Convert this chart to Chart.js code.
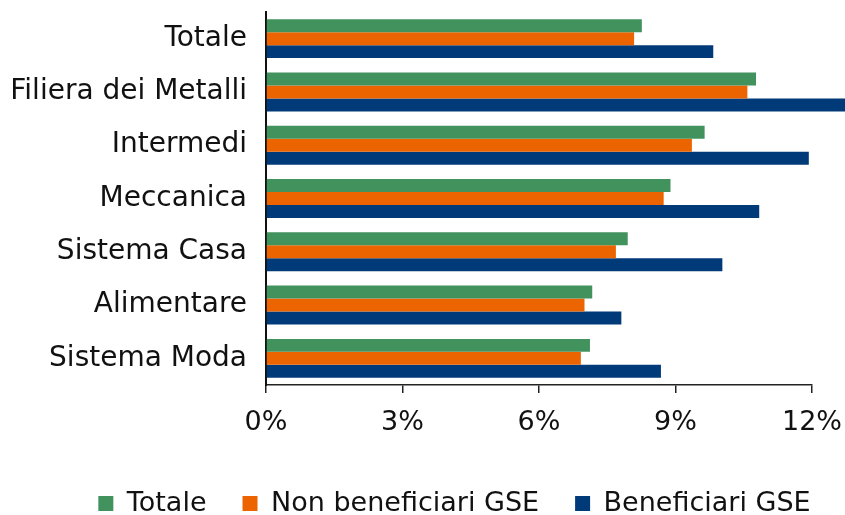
<!DOCTYPE html>
<html>
<head>
<meta charset="utf-8">
<script src="https://cdn.jsdelivr.net/npm/chart.js@4.4.1/dist/chart.umd.min.js"></script>
<style>
  html, body { margin: 0; padding: 0; background: #fff; }
  #wrap { width: 845px; height: 515px; position: relative; }
</style>
</head>
<body>
<div id="wrap"><canvas id="chartGse"></canvas></div>
<script>
// categorie e serie (valori in %)
const categories = ['Totale', 'Filiera dei Metalli', 'Intermedi', 'Meccanica', 'Sistema Casa', 'Alimentare', 'Sistema Moda'];
const totale = [8.26, 10.77, 9.64, 8.89, 7.95, 7.17, 7.12];
const nonBeneficiari = [8.09, 10.58, 9.36, 8.74, 7.69, 7.00, 6.92];
const beneficiari = [9.83, 12.85, 11.93, 10.84, 10.03, 7.81, 8.68];
const xTicks = [0, 3, 6, 9, 12];

const FONT = '"DejaVu Sans"';

// sposta la legenda un po' a destra, come nell'originale
const legendShift = {
    id: 'legendShift',
    afterLayout(chart) {
        const lg = chart.legend;
        if (lg) {
            lg.left += 32;
            lg.right += 32;
        }
    }
};

const ctx = document.getElementById('chartGse').getContext('2d');

const chartGse = new Chart(ctx, {
    type: 'bar',
    data: {
        labels: categories,
        datasets: [
            { label: 'Totale', data: totale, backgroundColor: '#42925e', clip: false },
            { label: 'Non beneficiari GSE', data: nonBeneficiari, backgroundColor: '#ec6400', clip: false },
            { label: 'Beneficiari GSE', data: beneficiari, backgroundColor: '#003a78', clip: false }
        ]
    },
    options: {
        indexAxis: 'y',
        responsive: true,
        maintainAspectRatio: false,
        animation: false,
        datasets: {
            bar: { categoryPercentage: 0.73, barPercentage: 1.0, borderWidth: 0 }
        },
        layout: {
            padding: { left: 0, right: 0, top: 12, bottom: -12 }
        },
        scales: {
            x: {
                min: 0,
                max: 12,
                afterBuildTicks: (scale) => {
                    scale.ticks = xTicks.map(v => ({ value: v }));
                },
                afterFit: (scale) => {
                    scale.height = 69;
                    scale.paddingLeft = 0;
                    scale.paddingRight = 33;
                },
                grid: {
                    drawOnChartArea: false,
                    drawTicks: true,
                    tickLength: 8,
                    color: '#222',
                    lineWidth: 1.5
                },
                border: { color: '#222', width: 1.5 },
                ticks: {
                    padding: 14,
                    color: '#111',
                    font: { family: FONT, size: 27 },
                    callback: (v) => v + '%'
                }
            },
            y: {
                afterFit: (scale) => {
                    scale.width = 266;
                    scale.paddingTop = 0;
                    scale.paddingBottom = 0;
                },
                grid: { display: false, drawTicks: false },
                border: { color: '#111', width: 2 },
                ticks: {
                    padding: 19,
                    color: '#111',
                    font: { family: FONT, size: 28 }
                }
            }
        },
        plugins: {
            legend: {
                position: 'bottom',
                labels: {
                    boxWidth: 15,
                    boxHeight: 15,
                    padding: 36,
                    color: '#111',
                    font: { family: FONT, size: 27 }
                }
            },
            tooltip: { enabled: false }
        }
    },
    plugins: [legendShift]
});
</script>
</body>
</html>
